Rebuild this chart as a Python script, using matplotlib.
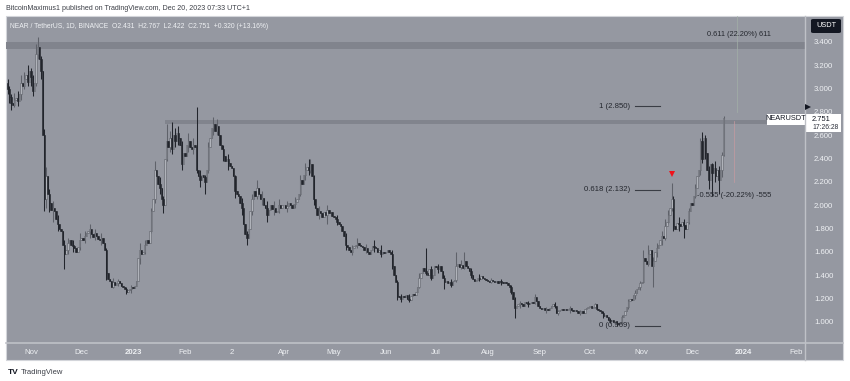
import numpy as np
import pandas as pd
import matplotlib
matplotlib.use('Agg')
import matplotlib.pyplot as plt
import matplotlib.dates as mdates
from matplotlib.patches import Rectangle, FancyBboxPatch
from matplotlib.lines import Line2D

plt.rcParams['font.family'] = ['Liberation Sans', 'DejaVu Sans']

# daily closes NEAR/USDT
close_2022_10 = [3.00, 2.93, 2.88, 2.86, 2.90, 2.92, 2.89, 2.95, 3.05, 3.02, 3.08, 3.12, 3.06, 3.15]
close_2022_11 = [3.10, 2.98, 3.05, 3.30, 3.36, 3.25, 3.15, 2.60, 2.05, 2.25, 2.10, 2.02, 1.96, 1.98, 1.95,
                 1.88, 1.84, 1.80, 1.78, 1.66, 1.58, 1.62, 1.68, 1.70, 1.66, 1.65, 1.63, 1.60, 1.64, 1.70]
close_2022_12 = [1.72, 1.70, 1.74, 1.76, 1.78, 1.80, 1.75, 1.73, 1.76, 1.74, 1.71, 1.70, 1.72, 1.68, 1.62,
                 1.42, 1.37, 1.35, 1.30, 1.34, 1.32, 1.33, 1.35, 1.33, 1.31, 1.30, 1.28, 1.26, 1.27, 1.28, 1.30]
close_2023_01 = [1.29, 1.31, 1.35, 1.55, 1.62, 1.58, 1.60, 1.66, 1.70, 1.68, 1.78, 1.95, 2.05, 2.30, 2.25,
                 2.18, 2.15, 2.05, 2.00, 2.40, 2.55, 2.50, 2.58, 2.48, 2.60, 2.55, 2.62, 2.58, 2.52, 2.35, 2.45]
close_2023_02 = [2.42, 2.52, 2.55, 2.50, 2.48, 2.52, 2.50, 2.30, 2.25, 2.22, 2.26, 2.24, 2.20, 2.30, 2.50,
                 2.58, 2.66, 2.70, 2.64, 2.68, 2.60, 2.52, 2.48, 2.42, 2.38, 2.40, 2.36, 2.34]
close_2023_03 = [2.32, 2.25, 2.12, 2.10, 2.08, 2.02, 1.98, 1.84, 1.75, 1.72, 1.80, 1.95, 2.05, 2.12, 2.08,
                 2.15, 2.10, 2.05, 2.06, 2.00, 1.98, 1.92, 1.96, 2.00, 1.97, 1.98, 1.94, 1.95, 2.00, 1.98, 2.00]
close_2023_04 = [2.00, 1.98, 1.99, 2.02, 2.00, 1.98, 2.01, 2.03, 2.05, 2.10, 2.22, 2.18, 2.26, 2.30, 2.33,
                 2.30, 2.35, 2.25, 2.05, 1.98, 1.92, 1.95, 1.93, 1.90, 1.94, 1.92, 1.96, 1.93, 1.94, 1.91]
close_2023_05 = [1.90, 1.88, 1.86, 1.84, 1.82, 1.78, 1.74, 1.66, 1.64, 1.62, 1.60, 1.63, 1.65, 1.66, 1.68,
                 1.66, 1.65, 1.64, 1.62, 1.63, 1.60, 1.58, 1.62, 1.65, 1.64, 1.63, 1.60, 1.62, 1.58, 1.60, 1.59]
close_2023_06 = [1.60, 1.62, 1.60, 1.58, 1.48, 1.40, 1.34, 1.22, 1.21, 1.20, 1.22, 1.21, 1.23, 1.20, 1.19,
                 1.22, 1.24, 1.23, 1.26, 1.30, 1.38, 1.42, 1.46, 1.44, 1.42, 1.40, 1.45, 1.38, 1.40, 1.48]
close_2023_07 = [1.47, 1.45, 1.48, 1.44, 1.38, 1.34, 1.35, 1.33, 1.34, 1.32, 1.35, 1.36, 1.48, 1.50, 1.47,
                 1.49, 1.46, 1.52, 1.48, 1.46, 1.44, 1.40, 1.37, 1.35, 1.36, 1.38, 1.37, 1.39, 1.38, 1.37, 1.36]
close_2023_08 = [1.35, 1.34, 1.36, 1.35, 1.34, 1.35, 1.33, 1.35, 1.34, 1.33, 1.34, 1.33, 1.32, 1.30, 1.26,
                 1.20, 1.12, 1.14, 1.15, 1.16, 1.15, 1.14, 1.17, 1.16, 1.15, 1.16, 1.17, 1.16, 1.21, 1.18, 1.14]
close_2023_09 = [1.12, 1.11, 1.12, 1.10, 1.11, 1.10, 1.12, 1.14, 1.15, 1.14, 1.08, 1.09, 1.10, 1.11, 1.10,
                 1.11, 1.10, 1.11, 1.12, 1.10, 1.09, 1.10, 1.09, 1.08, 1.08, 1.09, 1.08, 1.11, 1.12, 1.13]
close_2023_10 = [1.14, 1.12, 1.13, 1.15, 1.11, 1.10, 1.09, 1.08, 1.05, 1.06, 1.04, 1.02, 1.01, 1.02, 1.00,
                 1.01, 0.99, 0.98, 0.99, 1.04, 1.06, 1.09, 1.13, 1.18, 1.20, 1.19, 1.23, 1.25, 1.28, 1.30, 1.33]
close_2023_11 = [1.34, 1.55, 1.52, 1.50, 1.58, 1.62, 1.48, 1.52, 1.60, 1.63, 1.66, 1.70, 1.74, 1.72, 1.82,
                 1.86, 1.92, 1.98, 2.05, 1.82, 1.80, 1.85, 1.84, 1.82, 1.86, 1.83, 1.80, 1.86, 1.95, 2.02]
close_2023_12 = [2.00, 2.08, 2.15, 2.25, 2.30, 2.55, 2.40, 2.58, 2.45, 2.30, 2.22, 2.35, 2.28, 2.32, 2.25,
                 2.30, 2.22, 2.30, 2.431, 2.751]
first_open = 3.05

# visible wick extremes (date: (high, low)), None = no wick on that side
wicks = {
    '2022-10-18': (3.08, 2.95), '2022-10-19': (3.02, 2.88), '2022-10-20': (2.95, 2.82),
    '2022-10-22': (2.96, 2.84), '2022-10-24': (2.98, 2.85), '2022-10-26': (3.12, 2.90),
    '2022-10-28': (3.14, 3.00), '2022-10-30': (3.20, 3.02), '2022-11-01': (3.18, 3.02),
    '2022-11-02': (3.12, 2.94), '2022-11-04': (3.38, 3.02), '2022-11-05': (3.44, 3.25),
    '2022-11-07': (3.28, 3.08), '2022-11-09': (2.65, 1.95), '2022-11-10': (2.33, 1.98),
    '2022-11-12': (2.14, 1.94), '2022-11-14': (2.04, 1.86), '2022-11-17': (1.92, 1.78),
    '2022-11-21': (1.70, 1.45), '2022-11-23': (1.72, 1.58), '2022-11-26': (1.70, 1.60),
    '2022-11-30': (1.76, 1.62), '2022-12-03': (1.78, 1.68), '2022-12-06': (1.84, 1.72),
    '2022-12-09': (1.80, 1.70), '2022-12-13': (1.76, 1.66), '2022-12-16': (1.63, 1.36),
    '2022-12-20': (1.38, 1.29), '2022-12-23': (1.37, 1.31), '2022-12-28': (1.30, 1.24),
    '2022-12-31': (1.32, 1.25), '2023-01-05': (1.68, 1.50), '2023-01-08': (1.70, 1.58),
    '2023-01-12': (1.98, 1.76), '2023-01-14': (2.38, 2.02), '2023-01-17': (2.24, 2.10),
    '2023-01-19': (2.08, 1.93), '2023-01-21': (2.70, 2.38), '2023-01-23': (2.64, 2.46),
    '2023-01-24': (2.71, 2.44), '2023-01-26': (2.66, 2.50), '2023-01-28': (2.68, 2.52),
    '2023-01-30': (2.55, 2.30), '2023-02-03': (2.62, 2.46), '2023-02-06': (2.58, 2.44),
    '2023-02-08': (2.84, 2.28), '2023-02-10': (2.30, 2.16), '2023-02-13': (2.26, 2.10),
    '2023-02-15': (2.54, 2.28), '2023-02-18': (2.76, 2.60), '2023-02-20': (2.74, 2.60),
    '2023-02-24': (2.52, 2.38), '2023-02-27': (2.44, 2.30), '2023-03-03': (2.26, 2.06),
    '2023-03-07': (2.06, 1.92), '2023-03-10': (1.78, 1.66), '2023-03-13': (2.10, 1.92),
    '2023-03-16': (2.22, 2.05), '2023-03-19': (2.12, 2.00), '2023-03-22': (2.04, 1.86),
    '2023-03-26': (2.04, 1.92), '2023-03-29': (2.05, 1.93), '2023-04-03': (2.04, 1.94),
    '2023-04-08': (2.07, 1.98), '2023-04-11': (2.26, 2.08), '2023-04-14': (2.36, 2.22),
    '2023-04-16': (2.40, 2.26), '2023-04-17': (2.40, 2.28), '2023-04-19': (2.26, 2.00),
    '2023-04-22': (1.99, 1.88), '2023-04-27': (2.00, 1.84), '2023-05-03': (1.92, 1.83),
    '2023-05-08': (1.76, 1.62), '2023-05-12': (1.66, 1.57), '2023-05-15': (1.72, 1.63),
    '2023-05-20': (1.67, 1.59), '2023-05-25': (1.70, 1.60), '2023-05-29': (1.66, 1.56),
    '2023-06-05': (1.62, 1.45), '2023-06-08': (1.36, 1.19), '2023-06-10': (1.24, 1.17),
    '2023-06-15': (1.24, 1.17), '2023-06-21': (1.42, 1.29), '2023-06-25': (1.63, 1.40),
    '2023-06-28': (1.48, 1.36), '2023-07-02': (1.50, 1.42), '2023-07-06': (1.40, 1.28),
    '2023-07-10': (1.37, 1.30), '2023-07-13': (1.60, 1.34), '2023-07-16': (1.53, 1.45),
    '2023-07-18': (1.60, 1.45), '2023-07-22': (1.46, 1.38), '2023-07-27': (1.41, 1.35),
    '2023-08-03': (1.38, 1.33), '2023-08-09': (1.37, 1.32), '2023-08-15': (1.32, 1.24),
    '2023-08-17': (1.21, 1.03), '2023-08-20': (1.18, 1.12), '2023-08-25': (1.18, 1.13),
    '2023-08-29': (1.24, 1.15), '2023-09-05': (1.13, 1.08), '2023-09-10': (1.17, 1.12),
    '2023-09-12': (1.10, 1.06), '2023-09-19': (1.14, 1.08), '2023-09-25': (1.10, 1.06),
    '2023-10-04': (1.16, 1.12), '2023-10-09': (1.09, 1.03), '2023-10-13': (1.03, 0.99),
    '2023-10-17': (1.01, 0.969), '2023-10-20': (1.06, 0.98), '2023-10-24': (1.20, 1.11),
    '2023-10-28': (1.27, 1.20), '2023-10-31': (1.35, 1.27), '2023-11-02': (1.62, 1.33),
    '2023-11-05': (1.66, 1.48), '2023-11-08': (1.56, 1.30), '2023-11-10': (1.68, 1.56),
    '2023-11-13': (1.78, 1.66), '2023-11-15': (1.88, 1.70), '2023-11-17': (1.96, 1.84),
    '2023-11-19': (2.19, 1.95), '2023-11-20': (2.08, 1.78), '2023-11-23': (1.90, 1.78),
    '2023-11-26': (1.88, 1.72), '2023-11-29': (1.98, 1.84), '2023-12-03': (2.18, 2.06),
    '2023-12-06': (2.58, 2.26), '2023-12-07': (2.63, 2.36), '2023-12-09': (2.60, 2.40),
    '2023-12-11': (2.34, 2.14), '2023-12-13': (2.36, 2.08), '2023-12-15': (2.38, 2.20),
    '2023-12-17': (2.34, 2.10), '2023-12-19': (2.46, 2.24), '2023-12-20': (2.767, 2.422),
}

time_labels = ['Nov', 'Dec', '2023', 'Feb', '2', 'Apr', 'May', 'Jun', 'Jul', 'Aug', 'Sep',
               'Oct', 'Nov', 'Dec', '2024', 'Feb']
time_ticks = pd.date_range('2022-11-01', '2024-02-01', freq='MS')
price_ticks = [1.0, 1.2, 1.4, 1.6, 1.8, 2.0, 2.2, 2.4, 2.6, 2.8, 3.0, 3.2, 3.4]

fib_levels = [(1.0, 2.850), (0.618, 2.132), (0, 0.969)]

closes = np.array(close_2022_10 + close_2022_11 + close_2022_12 + close_2023_01 + close_2023_02
                  + close_2023_03 + close_2023_04 + close_2023_05 + close_2023_06 + close_2023_07
                  + close_2023_08 + close_2023_09 + close_2023_10 + close_2023_11 + close_2023_12)
dates = pd.date_range('2022-10-18', periods=len(closes), freq='D')
opens = np.concatenate([[first_open], closes[:-1]])
highs = np.maximum(opens, closes)
lows = np.minimum(opens, closes)
for d, (h, l) in wicks.items():
    i = dates.get_loc(pd.Timestamp(d))
    if h is not None:
        highs[i] = max(highs[i], h)
    if l is not None:
        lows[i] = min(lows[i], l)

W, H = 850, 381
fig = plt.figure(figsize=(W / 100, H / 100), dpi=100)


def fx(x):
    return x / W


def fy(y):
    return 1 - y / H


bg = '#9598a1'
axis_txt = '#eef0f3'
sep = '#bfc1c7'

# panel background + frame
fig.add_artist(Rectangle((fx(6), fy(360)), fx(837), 344 / H, transform=fig.transFigure,
                         facecolor=bg, edgecolor='#d3d5da', linewidth=0.8, zorder=0))

ax = fig.add_axes([fx(6), fy(343), fx(799), 327 / H])
ax.set_facecolor(bg)
ax.patch.set_alpha(0)
nov1 = mdates.date2num(pd.Timestamp('2022-11-01'))
ax.set_xlim(nov1 - 14.94, nov1 + 462.6)
ax.set_ylim(0.820, 3.622)
for s in ax.spines.values():
    s.set_visible(False)

# horizontal zones
ax.axhspan(3.34, 3.40, color='#81848d', zorder=1, linewidth=0)
ax.fill_between([pd.Timestamp('2023-01-20'), pd.Timestamp('2024-02-10')], 2.695, 2.73,
                color='#81848d', zorder=1, linewidth=0)

# candles
xd = mdates.date2num(dates)
up = closes >= opens
bottoms = np.minimum(opens, closes)
body_h = np.maximum(np.abs(closes - opens), 0.005)
ax.vlines(xd[up], lows[up], highs[up], color='#5f626a', linewidth=0.75, zorder=3)
ax.vlines(xd[~up], lows[~up], highs[~up], color='#22252c', linewidth=0.75, zorder=3)
ax.bar(xd[up], body_h[up], bottom=bottoms[up], width=0.85,
       color='#b0b3ba', edgecolor='#5f626a', linewidth=0.4, zorder=4)
ax.bar(xd[~up], body_h[~up], bottom=bottoms[~up], width=0.85,
       color='#22252c', edgecolor='#22252c', linewidth=0.4, zorder=4)

# fib retracement levels
fl0, fl1 = pd.Timestamp('2023-10-28'), pd.Timestamp('2023-11-12')
for lvl, price in fib_levels:
    ax.plot([fl0, fl1], [price, price], color='#3a3d45', linewidth=0.8, zorder=5)
    ax.text(pd.Timestamp('2023-10-25'), price, f'{lvl:g} ({price:.3f})', ha='right', va='center',
            fontsize=5.6, color='#24272e', zorder=6)
ax.text(pd.Timestamp('2023-12-10'), 3.465, '0.611 (22.20%) 611', ha='left', va='center',
        fontsize=5.3, color='#24272e')
ax.text(pd.Timestamp('2023-12-04'), 2.085, '-0.555 (-20.22%) -555', ha='left', va='center',
        fontsize=5.5, color='#24272e')
# measuring lines
ax.plot([pd.Timestamp('2023-12-26')] * 2, [2.20, 2.72], color='#c79aa0', linewidth=0.5, zorder=2)
ax.plot([pd.Timestamp('2023-12-28')] * 2, [2.80, 3.62], color='#a3b0a8', linewidth=0.5, zorder=2)
# red marker above the Nov high
ax.plot(pd.Timestamp('2023-11-19'), 2.27, marker='v', color='#f0121a', markersize=5,
        markeredgewidth=0, zorder=6)

# axes ticks
ax.yaxis.tick_right()
ax.set_yticks(price_ticks)
ax.set_yticklabels([f'{p:.3f}' for p in price_ticks])
ax.tick_params(axis='y', length=0, pad=6.5, labelsize=5.6, labelcolor=axis_txt)
ax.set_xticks(mdates.date2num(time_ticks))
ax.set_xticklabels(time_labels)
ax.tick_params(axis='x', length=0, pad=4, labelsize=5.6, labelcolor=axis_txt)
for t in ax.get_xticklabels():
    if t.get_text() in ('2023', '2024'):
        t.set_fontweight('bold')

# separators
fig.add_artist(Line2D([fx(6), fx(843)], [fy(343), fy(343)], transform=fig.transFigure,
                      color=sep, linewidth=1.2))
fig.add_artist(Line2D([fx(805), fx(805)], [fy(16), fy(360)], transform=fig.transFigure,
                      color=sep, linewidth=1.0))

# header
fig.text(fx(6), fy(9), 'BitcoinMaximus1 published on TradingView.com, Dec 20, 2023 07:33 UTC+1',
         fontsize=5.1, color='#3b3e46', va='center', ha='left')
fig.text(fx(10), fy(26), 'NEAR / TetherUS, 1D, BINANCE  O2.431  H2.767  L2.422  C2.751  +0.320 (+13.16%)',
         fontsize=4.9, color='#eef0f3', va='center', ha='left')

# USDT box
fig.add_artist(FancyBboxPatch((fx(811), fy(33)), fx(30), 14 / H, transform=fig.transFigure,
                              boxstyle='round,pad=0,rounding_size=0.003', facecolor='#131722',
                              edgecolor='none'))
fig.text(fx(826), fy(25.5), 'USDT', fontsize=5.3, color='white', ha='center', va='center')

# last price labels
fig.add_artist(Rectangle((fx(767), fy(124.5)), fx(38), 11 / H, transform=fig.transFigure,
                         facecolor='white', edgecolor='none'))
fig.text(fx(786), fy(119), 'NEARUSDT', fontsize=5.3, color='#131722', ha='center', va='center')
fig.add_artist(Rectangle((fx(805.5), fy(132)), fx(35), 18.5 / H, transform=fig.transFigure,
                         facecolor='white', edgecolor='none'))
fig.text(fx(812), fy(119.5), '2.751', fontsize=5.4, color='#131722', ha='left', va='center')
fig.text(fx(812), fy(127.8), '17:26:28', fontsize=4.9, color='#2a2e39', ha='left', va='center')
fig.add_artist(Line2D([fx(808)], [fy(106.5)], transform=fig.transFigure, marker='>',
                      color='#131722', markersize=4, markeredgewidth=0))

# footer
fig.text(fx(8), fy(372), 'TV', fontsize=6, fontweight='heavy', color='#131722', ha='left', va='center')
fig.text(fx(21), fy(372), 'TradingView', fontsize=5.5, color='#3b3e46', ha='left', va='center')

fig.savefig('out.png', dpi=100, facecolor='white')
